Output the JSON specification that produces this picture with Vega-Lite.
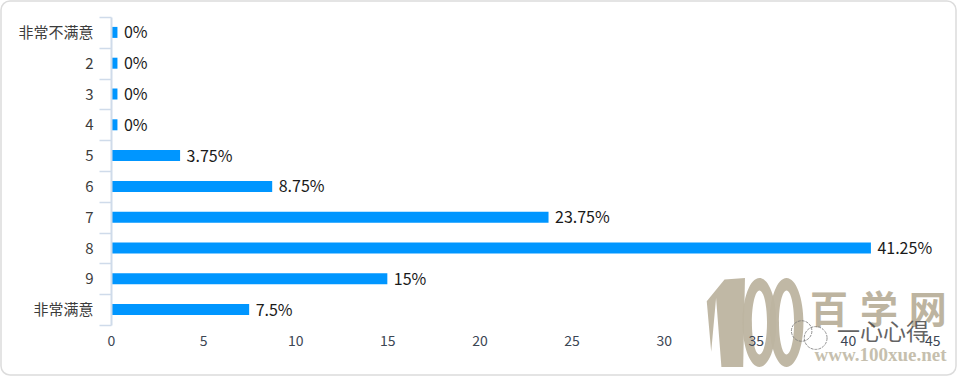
{"$schema":"https://vega.github.io/schema/vega-lite/v6.json","width":955,"height":374,"autosize":"none","padding":{"left":1,"top":1,"right":1,"bottom":1},"background":"white","config":{"font":"Noto Sans CJK SC","view":{"stroke":"#dcdcdc","strokeWidth":1.5,"cornerRadius":9,"fill":"white"}},"data":{"values":[{"option":"非常不满意","percent":0,"barLength":0.35,"label":"0%"},{"option":"2","percent":0,"barLength":0.35,"label":"0%"},{"option":"3","percent":0,"barLength":0.35,"label":"0%"},{"option":"4","percent":0,"barLength":0.35,"label":"0%"},{"option":"5","percent":3.75,"barLength":3.75,"label":"3.75%"},{"option":"6","percent":8.75,"barLength":8.75,"label":"8.75%"},{"option":"7","percent":23.75,"barLength":23.75,"label":"23.75%"},{"option":"8","percent":41.25,"barLength":41.25,"label":"41.25%"},{"option":"9","percent":15,"barLength":15,"label":"15%"},{"option":"非常满意","percent":7.5,"barLength":7.5,"label":"7.5%"}]},"resolve":{"scale":{"y":"independent"}},"layer":[{"layer":[{"mark":{"type":"bar","color":"#0096ff","size":11},"encoding":{"x":{"field":"barLength","type":"quantitative","scale":{"domain":[0,45],"range":[110,939],"nice":false},"axis":{"values":[0,5,10,15,20,25,30,35,40,45],"title":null,"grid":false,"orient":"bottom","offset":-50,"domain":false,"ticks":false,"labelFontSize":14,"labelColor":"#3c4654","labelPadding":9,"labelAlign":{"expr":"datum.value==45?'right':'center'"},"zindex":1}},"y":{"field":"option","type":"ordinal","sort":null,"scale":{"type":"band","range":[16,324],"paddingInner":0,"paddingOuter":0},"axis":{"title":null,"orient":"left","offset":-110,"tickBand":"extent","tickSize":12,"tickColor":"#cfdbea","tickWidth":1.5,"domainColor":"#cfdbea","domainWidth":2,"labelFontSize":15,"labelColor":"#3c3c3c","labelPadding":6,"grid":false,"labelAngle":0,"zindex":1}}}},{"mark":{"type":"text","align":"left","baseline":"middle","dx":6.5,"dy":1,"fontSize":16,"color":"#1a1a1a"},"encoding":{"x":{"field":"barLength","type":"quantitative"},"y":{"field":"option","type":"ordinal","sort":null},"text":{"field":"label"}}}]},{"layer":[{"data":{"values":[{"part":"1"}]},"mark":{"type":"point","filled":true,"color":"#bdb4a0","opacity":0.95,"size":7900,"shape":"M0.42,-1 L-0.04,-0.97 L-0.44,-0.48 L-0.34,0.66 L-0.23,-0.55 L-0.11,1 L0.38,1 Z"},"encoding":{"x":{"datum":33.4,"type":"quantitative"},"y":{"datum":321.5,"type":"quantitative","scale":{"domain":[0,374],"range":[0,374],"nice":false,"zero":false},"axis":null}}},{"data":{"values":[{"part":"0"}]},"mark":{"type":"point","filled":true,"color":"#bdb4a0","opacity":0.95,"size":7900,"shape":"M0,-1 A0.38,1 0 1,1 0,1 A0.38,1 0 1,1 0,-1 Z M0,-0.72 A0.17,0.72 0 1,0 0,0.72 A0.17,0.72 0 1,0 0,-0.72 Z"},"encoding":{"x":{"datum":35.2,"type":"quantitative"},"y":{"datum":321.5,"type":"quantitative"}}},{"data":{"values":[{"part":"0"}]},"mark":{"type":"point","filled":true,"color":"#bdb4a0","opacity":0.95,"size":7900,"shape":"M0,-1 A0.38,1 0 1,1 0,1 A0.38,1 0 1,1 0,-1 Z M0,-0.72 A0.17,0.72 0 1,0 0,0.72 A0.17,0.72 0 1,0 0,-0.72 Z"},"encoding":{"x":{"datum":36.67,"type":"quantitative"},"y":{"datum":321.5,"type":"quantitative"}}},{"data":{"values":[{"t":"百"}]},"mark":{"type":"text","fontSize":38,"fontWeight":"bold","color":"#bdb4a0","font":"Noto Sans CJK SC"},"encoding":{"x":{"datum":38.98,"type":"quantitative"},"y":{"datum":311,"type":"quantitative"},"text":{"field":"t"}}},{"data":{"values":[{"t":"学"}]},"mark":{"type":"text","fontSize":38,"fontWeight":"bold","color":"#bdb4a0","font":"Noto Sans CJK SC"},"encoding":{"x":{"datum":41.69,"type":"quantitative"},"y":{"datum":311,"type":"quantitative"},"text":{"field":"t"}}},{"data":{"values":[{"t":"网"}]},"mark":{"type":"text","fontSize":38,"fontWeight":"bold","color":"#bdb4a0","font":"Noto Sans CJK SC"},"encoding":{"x":{"datum":44.33,"type":"quantitative"},"y":{"datum":311,"type":"quantitative"},"text":{"field":"t"}}},{"data":{"values":[{"t":"www.100xue.net"}]},"mark":{"type":"text","fontSize":19,"fontWeight":"bold","color":"#c6bfae","font":"Liberation Serif"},"encoding":{"x":{"datum":41.77,"type":"quantitative"},"y":{"datum":354,"type":"quantitative"},"text":{"field":"t"}}},{"data":{"values":[{"t":"一心心得"}]},"mark":{"type":"text","fontSize":23,"fontWeight":"normal","color":"#4a4a4a","opacity":0.85,"font":"Noto Sans CJK SC"},"encoding":{"x":{"datum":41.9,"type":"quantitative"},"y":{"datum":332,"type":"quantitative"},"text":{"field":"t"}}},{"data":{"values":[{"part":"a"}]},"mark":{"type":"point","filled":false,"stroke":"#777777","strokeWidth":0.8,"strokeDash":[3,1],"size":420,"shape":"circle","opacity":1},"encoding":{"x":{"datum":37.49,"type":"quantitative"},"y":{"datum":330,"type":"quantitative"}}},{"data":{"values":[{"part":"b"}]},"mark":{"type":"point","filled":false,"stroke":"#777777","strokeWidth":0.8,"strokeDash":[3,1],"size":520,"shape":"circle","opacity":1},"encoding":{"x":{"datum":38.25,"type":"quantitative"},"y":{"datum":337,"type":"quantitative"}}}]}]}
